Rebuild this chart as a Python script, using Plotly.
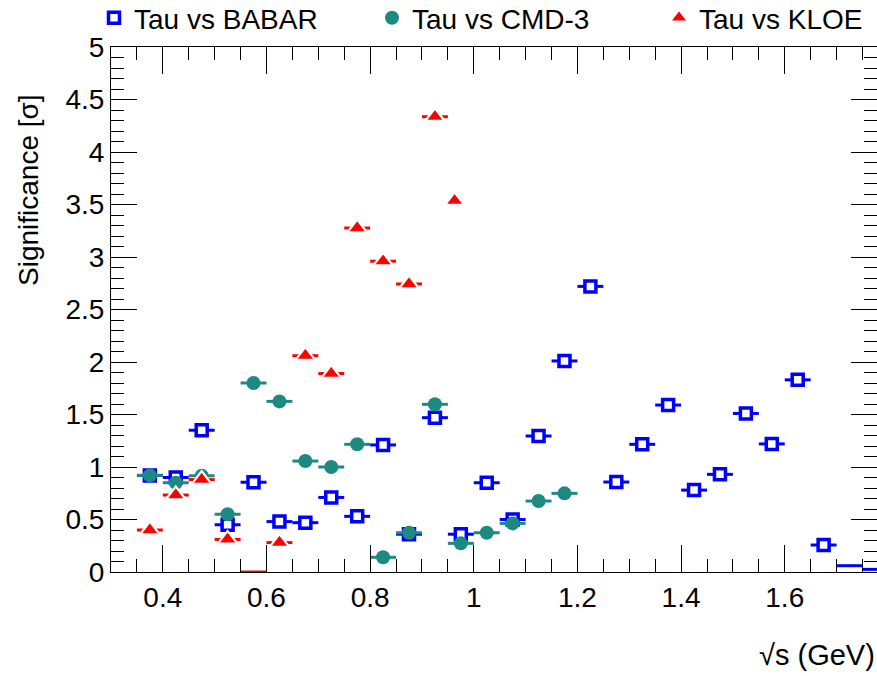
import plotly.graph_objects as go

# ---- data ----
babar_x = [0.375, 0.425, 0.475, 0.525, 0.575, 0.625, 0.675, 0.725, 0.775, 0.825,
           0.875, 0.925, 0.975, 1.025, 1.075, 1.125, 1.175, 1.225, 1.275, 1.325,
           1.375, 1.425, 1.475, 1.525, 1.575, 1.625, 1.675, 1.725, 1.775]
babar_y = [0.92, 0.90, 1.35, 0.45, 0.855, 0.48, 0.47, 0.71, 0.53, 1.21,
           0.36, 1.47, 0.36, 0.85, 0.50, 1.295, 2.01, 2.72, 0.857, 1.216,
           1.59, 0.78, 0.93, 1.51, 1.22, 1.83, 0.257, 0.06, 0.025]
babar_ex = [0.025] * 29
babar_mark = [True] * 27 + [False, False]

cmd3_x = [0.375, 0.425, 0.475, 0.525, 0.575, 0.625, 0.675, 0.725, 0.775, 0.825,
          0.875, 0.925, 0.975, 1.025, 1.075, 1.125, 1.175]
cmd3_y = [0.92, 0.85, 0.917, 0.55, 1.80, 1.625, 1.057, 1.0, 1.216, 0.14,
          0.374, 1.597, 0.273, 0.374, 0.463, 0.676, 0.749]
cmd3_ex = [0.025] * 17

kloe_x = [0.375, 0.425, 0.475, 0.525, 0.575, 0.625, 0.675, 0.725, 0.775, 0.825,
          0.875, 0.925, 0.963]
kloe_y = [0.40, 0.733, 0.88, 0.31, 0.0, 0.28, 2.06, 1.89, 3.276, 2.96,
          2.743, 4.336, 3.536]
kloe_ex = [0.025] * 12 + [0.0]
kloe_mark = [True] * 4 + [False] + [True] * 8

labels = ["Tau vs BABAR", "Tau vs CMD-3", "Tau vs KLOE"]
x_title = "√s (GeV)"
y_title = "Significance [σ]"

BLUE = "#0000ff"
TEAL = "#1c8a80"
RED = "#ff0000"
FONT = "Liberation Sans, Arial, sans-serif"


def split(xs, ys, ex, mask, keep):
    sel = [i for i, m in enumerate(mask) if m == keep]
    return [xs[i] for i in sel], [ys[i] for i in sel], [ex[i] for i in sel]


fig = go.Figure()

# BABAR
bx, by, bex = split(babar_x, babar_y, babar_ex, babar_mark, True)
fig.add_trace(go.Scatter(
    x=bx, y=by, mode="markers", name=labels[0], legend="legend",
    marker=dict(symbol="square", size=11, color="white",
                line=dict(color=BLUE, width=3.5)),
    error_x=dict(type="data", array=bex, color=BLUE, thickness=3, width=0),
))
bx, by, bex = split(babar_x, babar_y, babar_ex, babar_mark, False)
fig.add_trace(go.Scatter(
    x=bx, y=by, mode="markers", showlegend=False,
    marker=dict(size=1, opacity=0),
    error_x=dict(type="data", array=bex, color=BLUE, thickness=3, width=0),
))

# CMD-3
fig.add_trace(go.Scatter(
    x=cmd3_x, y=cmd3_y, mode="markers", name=labels[1], legend="legend2",
    marker=dict(symbol="circle", size=14, color=TEAL, line=dict(width=0)),
    error_x=dict(type="data", array=cmd3_ex, color=TEAL, thickness=3, width=0),
))

# KLOE
kx, ky, kex = split(kloe_x, kloe_y, kloe_ex, kloe_mark, True)
fig.add_trace(go.Scatter(
    x=kx, y=ky, mode="markers", name=labels[2], legend="legend3",
    marker=dict(symbol="triangle-up", size=17, color=RED,
                line=dict(color="white", width=2.2)),
    error_x=dict(type="data", array=kex, color=RED, thickness=3, width=0),
))
kx, ky, kex = split(kloe_x, kloe_y, kloe_ex, kloe_mark, False)
fig.add_trace(go.Scatter(
    x=kx, y=ky, mode="markers", showlegend=False,
    marker=dict(size=1, opacity=0),
    error_x=dict(type="data", array=kex, color=RED, thickness=3, width=0),
))

W, H = 877, 676
L, R, T, B = 111, 0, 47, 104
pw, ph = W - L - R, H - T - B


def px_x(p):
    return (p - L) / pw


def px_y(p):
    return (H - B - p) / ph


axis_common = dict(
    showgrid=False, zeroline=False, showline=True, linecolor="black",
    linewidth=1, ticks="inside", mirror="ticks", tickcolor="black",
    tickwidth=1, tickfont=dict(family=FONT, size=28, color="black"),
)

fig.update_xaxes(range=[0.3, 1.778], dtick=0.2, tick0=0, ticklen=27,
                 minor=dict(dtick=0.05, tick0=0, ticklen=13, ticks="inside",
                            tickcolor="black", tickwidth=1),
                 **axis_common)
fig.update_yaxes(range=[0, 5], dtick=0.5, tick0=0, ticklen=26,
                 minor=dict(dtick=0.1, tick0=0, ticklen=13, ticks="inside",
                            tickcolor="black", tickwidth=1),
                 **axis_common)

leg_common = dict(orientation="h", yanchor="middle", xanchor="left",
                  y=px_y(18), font=dict(family=FONT, size=28, color="black"),
                  bgcolor="rgba(0,0,0,0)", borderwidth=0, itemwidth=30)

fig.update_layout(
    width=W, height=H,
    margin=dict(l=L, r=R, t=T, b=B, pad=0, autoexpand=False),
    paper_bgcolor="white", plot_bgcolor="white",
    legend=dict(x=px_x(94), **leg_common),
    legend2=dict(x=px_x(372), **leg_common),
    legend3=dict(x=px_x(659), **leg_common),
    annotations=[
        dict(text=y_title, xref="paper", yref="paper", x=px_x(28), y=px_y(190),
             xanchor="center", yanchor="middle", textangle=-90, showarrow=False,
             font=dict(family=FONT, size=28, color="black")),
        dict(text=x_title, xref="paper", yref="paper", x=1.0, y=px_y(655),
             xanchor="right", yanchor="middle", showarrow=False,
             font=dict(family=FONT, size=29, color="black")),
    ],
)

fig.write_html("out.html")
